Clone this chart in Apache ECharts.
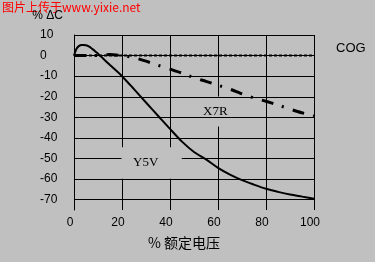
<!DOCTYPE html>
<html>
<head>
<meta charset="utf-8">
<script src="https://cdn.jsdelivr.net/npm/echarts@6/dist/echarts.min.js"></script>
<style>
html,body{margin:0;padding:0;background:#c0c0c0;}
#c{width:375px;height:262px;}
</style>
</head>
<body>
<div id="c"></div>
<script>
// ---- data ----
const xTicks = [0, 20, 40, 60, 80, 100];
const yTicks = [10, 0, -10, -20, -30, -40, -50, -60, -70];

const cogX = [0, 20, 40, 60, 80, 100];
const cogY = [0, 0, 0, 0, 0, 0];

const x7rX = [0, 5, 10, 15, 20, 25, 30, 35, 40, 45, 50, 55, 60, 65, 70, 75, 80, 85, 90, 95, 100];
const x7rY = [0, 0, 0, 0.5, 0, -1, -2.7, -4.7, -6.6, -8.5, -10.8, -12.5, -14.4, -16.3, -18.6, -20.6, -22.2, -24, -26, -27.8, -29.3];

const y5vX = [0, 1, 2, 3, 4, 5, 6, 7, 8, 9, 10, 12, 15, 20, 25, 30, 35, 40, 45, 50, 55, 60, 65, 70, 75, 80, 85, 90, 95, 100];
const y5vY = [0, 3.2, 4.6, 5.1, 5.2, 5.0, 4.6, 3.8, 2.9, 1.9, 0.9, -1.3, -4.6, -10, -16.3, -22.8, -29.2, -35.6, -41.8, -46.8, -50.4, -54.5, -57.8, -60.5, -62.7, -64.7, -66.2, -67.5, -68.5, -69.5];

const seriesNames = ['COG', 'X7R', 'Y5V'];
const yTitle = '% \u0394C';
const xTitle = '% 额定电压';
const watermark = '图片上传于www.yixie.net';

function zip(xs, ys) { return xs.map((x, i) => [x, ys[i]]); }

const chart = echarts.init(document.getElementById('c'), null, {renderer: 'canvas'});
const sans = '"Liberation Sans", Arial, sans-serif';
const serif = '"Liberation Serif", "Times New Roman", serif';

chart.setOption({
  backgroundColor: '#c0c0c0',
  animation: false,
  grid: {left: 74, right: 61, top: 35, bottom: 52, containLabel: false},
  xAxis: {
    type: 'value', min: 0, max: 100, interval: 20, z: 0,
    axisLine: {show: true, lineStyle: {color: '#000', width: 1}},
    axisTick: {show: false},
    splitLine: {show: true, lineStyle: {color: '#000', width: 1}},
    axisLabel: {
      color: '#000', fontFamily: sans, fontSize: 12, margin: 7,
      padding: [0, 8, 0, 0],
      formatter: v => xTicks.includes(v) ? String(v) : ''
    }
  },
  yAxis: {
    type: 'value', min: -75, max: 10, interval: 5, z: 2,
    axisLine: {show: true, lineStyle: {color: '#000', width: 1}},
    axisTick: {show: false},
    splitLine: {show: true, lineStyle: {color: ['rgba(0,0,0,0)', '#000'], width: 1}},
    axisLabel: {
      color: '#000', fontFamily: sans, fontSize: 12, margin: 34, align: 'left',
      formatter: v => yTicks.includes(v) ? String(v) : ''
    }
  },
  series: [
    {
      name: seriesNames[0], type: 'line', z: 5, showSymbol: false, symbol: 'none',
      data: zip(cogX, cogY),
      lineStyle: {color: '#000', width: 2, type: [3, 2]}
    },
    {
      name: seriesNames[1], type: 'line', z: 5, showSymbol: false, symbol: 'none',
      data: zip(x7rX, x7rY), smooth: 0.2,
      lineStyle: {color: '#000', width: 3, type: [12, 9, 2, 9.5]}
    },
    {
      name: seriesNames[2], type: 'line', z: 5, showSymbol: false, symbol: 'none',
      data: zip(y5vX, y5vY), smooth: 0.3,
      lineStyle: {color: '#000', width: 2}
    }
  ],
  graphic: [
    {type: 'text', x: 2, y: 7, z: 10, style: {text: watermark, fill: '#ff0000', font: '12px "Noto Sans CJK SC", sans-serif', align: 'left', verticalAlign: 'middle'}},
    {type: 'text', x: 47.5, y: 16, z: 10, style: {text: yTitle, fill: '#000', font: '12px ' + sans, align: 'center', verticalAlign: 'middle'}},
    {type: 'text', x: 336, y: 48, z: 10, style: {text: seriesNames[0], fill: '#000', font: '13px ' + sans, align: 'left', verticalAlign: 'middle'}},
    {type: 'text', x: 200, y: 111.5, z: 1, style: {text: seriesNames[1], fill: '#000', font: '13px ' + serif, align: 'left', verticalAlign: 'middle', backgroundColor: '#c0c0c0', padding: [8, 3, 9, 3]}},
    {type: 'text', x: 121.5, y: 163, z: 3, style: {text: seriesNames[2], fill: '#000', font: '13px ' + serif, align: 'left', verticalAlign: 'middle', backgroundColor: '#c0c0c0', padding: [8.5, 23.5, 10, 11.5]}},
    {type: 'text', x: 148, y: 243, z: 10, style: {text: xTitle, fill: '#000', font: '14px "Noto Sans CJK SC", ' + sans, align: 'left', verticalAlign: 'middle'}}
  ]
});
</script>
</body>
</html>
